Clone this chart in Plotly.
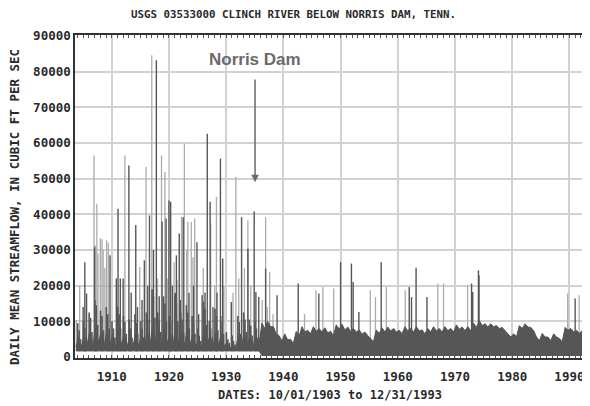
import plotly.graph_objects as go

# ---------------- data ----------------
# pre-dam dense band (water years 1904-1935): wet-season and dry-season tops
pre_years = list(range(1904, 1936))
pre_wet_top = [5500, 6000, 7000, 8000, 7000, 7500, 6000, 7500, 6500, 6000,
               6500, 6000, 7000, 9000, 7000, 8500, 6500, 8500, 7000, 7500,
               6500, 4800, 8000, 6000, 7000, 6500, 4200, 3800, 6500, 7000,
               6200, 6000]
pre_dry_top = [3000, 3500, 3200, 4000, 3300, 3600, 2800, 3500, 3000, 2900,
               3200, 2800, 3400, 4200, 3300, 3800, 3000, 3900, 3200, 3500,
               3000, 2500, 3600, 2800, 3300, 3000, 2400, 2200, 3000, 3200,
               3000, 2900]
pre_low = 1600

# typical winter / spring / summer freshets in the pre-dam years
pre_jan_peak = [9500, 10000, 12500, 16000, 13000, 14000, 10000, 14000, 11500, 10500,
                12000, 10000, 12500, 19000, 12500, 17000, 11500, 17500, 12500, 14500,
                11500, 8000, 15500, 10000, 13500, 11500, 7000, 6000, 11500, 12500,
                10500, 10000]
pre_apr_peak = [7500, 8000, 11000, 14500, 11500, 12000, 8000, 12000, 9800, 8000,
                9500, 8000, 10500, 17000, 10500, 15000, 9800, 15000, 10500, 12500,
                9800, 6000, 13500, 8000, 11500, 9800, 5000, 4500, 9800, 10500,
                8800, 8000]
pre_jul_peak = [5000, 5500, 7000, 9000, 7500, 8000, 5500, 8000, 6500, 5500,
                6500, 5500, 7000, 11000, 7000, 10000, 6500, 10000, 7000, 8000,
                6500, 4500, 9000, 5500, 7500, 6500, 4000, 3500, 6500, 7000,
                6000, 5500]

# post-dam regulated band (1936-1993): first-half and second-half tops
post_years = list(range(1936, 1994))
post_top_h1 = [9500, 10000, 8500, 6000, 6500, 5000, 7200, 8500, 7500, 8500,
               8000, 8200, 7200, 9000, 9200, 8400, 8000, 7600, 7000, 5200,
               7600, 8200, 8400, 8000, 7500, 8500, 8000, 8500, 7600, 8000,
               8500, 8000, 8500, 8000, 9000, 8400, 8500, 9500, 10200, 9300,
               9300, 8800, 8300, 6600, 6500, 8800, 9300, 8300, 5600, 6600,
               5600, 6500, 5200, 8300, 8000, 7500, 7500, 8000]
post_top_h2 = [8000, 8500, 6500, 4500, 4800, 3800, 5800, 7000, 6500, 7200,
               7000, 6800, 6000, 7800, 7600, 7200, 7000, 6400, 6000, 4300,
               6600, 7000, 7300, 7000, 6500, 7300, 7000, 7300, 6500, 7000,
               7300, 7000, 7400, 7000, 7800, 7400, 7300, 8300, 8800, 8500,
               8500, 8000, 7400, 5600, 5700, 8000, 8400, 7400, 4600, 5600,
               4600, 5600, 4300, 7500, 7000, 6600, 6500, 7000]
post_low = 300

# individual flood peaks (dark traces)
dark_peak_year = [1905.0, 1905.3, 1905.6, 1907.0, 1909.7, 1910.8, 1911.1, 1911.5,
                  1912.0, 1913.0, 1913.4, 1914.2, 1914.5, 1915.3, 1915.7, 1916.3,
                  1916.6, 1917.3, 1917.8, 1918.3, 1918.8, 1919.5, 1920.0, 1920.3,
                  1920.6, 1921.1, 1921.3, 1921.8, 1922.0, 1922.5, 1923.5, 1924.3,
                  1924.9, 1925.2, 1925.8, 1926.3, 1926.7, 1927.2, 1927.7, 1928.4,
                  1929.0, 1929.4, 1930.9, 1932.7, 1933.8, 1934.9, 1935.2, 1935.7,
                  1936.9, 1938.9, 1942.6, 1946.2, 1950.0, 1951.9, 1952.2, 1953.2,
                  1957.1, 1962.0, 1962.4, 1963.2, 1965.1, 1972.9, 1973.1, 1974.1,
                  1974.2, 1991.0]
dark_peak_flow = [14000, 26600, 17800, 30800, 28500, 22000, 41600, 22000,
                  22000, 53700, 18000, 37000, 14000, 16000, 27100, 20000,
                  39700, 30000, 83200, 17000, 38000, 38800, 43900, 43500,
                  20000, 18000, 28500, 34600, 16000, 39200, 18000, 20000,
                  32200, 12000, 17300, 18000, 62600, 43500, 14000, 18000,
                  55600, 27600, 15400, 39200, 30400, 40800, 18200, 16800,
                  24800, 17300, 20600, 17800, 26600, 26200, 21000, 12600,
                  26600, 19600, 16800, 25000, 16800, 20600, 18200, 24300,
                  22900, 16400]

# lighter (thin, anti-aliased) peaks
light_peak_year = [1903.8, 1904.4, 1906.9, 1907.1, 1907.4, 1907.6, 1908.0, 1908.3,
                   1908.5, 1908.8, 1909.1, 1909.4, 1912.3, 1914.9, 1916.0, 1917.0,
                   1918.0, 1918.7, 1919.3, 1919.8, 1920.9, 1921.4, 1922.2, 1922.7,
                   1923.1, 1923.3, 1923.9, 1924.2, 1924.5, 1926.0, 1927.3, 1928.0,
                   1928.3, 1929.6, 1931.2, 1931.7, 1932.2, 1933.2, 1933.8, 1934.3,
                   1936.3, 1936.9, 1937.2, 1937.6, 1938.2, 1943.7, 1945.7, 1946.9,
                   1948.8, 1955.2, 1956.1, 1958.0, 1961.3, 1967.0, 1968.0, 1972.2,
                   1989.7, 1991.7]
light_peak_flow = [10400, 20000, 56500, 31300, 43000, 29000, 33200, 33000,
                   30000, 25000, 32700, 32000, 56500, 25200, 53300, 84600,
                   22000, 56500, 51900, 22000, 26600, 21500, 39300, 59800,
                   30000, 37900, 37900, 28000, 38800, 25000, 37500, 20000,
                   44900, 20000, 18000, 50500, 22000, 25000, 38300, 20000,
                   16000, 39200, 14000, 23800, 12000, 12100, 18700, 19600,
                   19200, 18700, 16800, 19600, 18700, 20600, 20600, 20100,
                   17800, 17300]

decade_ticks = [1910, 1920, 1930, 1940, 1950, 1960, 1970, 1980, 1990]
flow_ticks = [0, 10000, 20000, 30000, 40000, 50000, 60000, 70000, 80000, 90000]

dam_year = 1935.05
dam_label_flow = 83300
dam_arrow_from = 78200
dam_arrow_to = 49000

# ---------------- build traces ----------------
band_x, band_top, band_bot = [1903.75], [2800], [pre_low]
for yr, w, d in zip(pre_years, pre_wet_top, pre_dry_top):
    band_x += [yr + 0.15, yr + 0.7]
    band_top += [w, d]
    band_bot += [pre_low, pre_low]
for yr, a, b in zip(post_years, post_top_h1, post_top_h2):
    band_x += [yr + 0.25, yr + 0.75]
    band_top += [a, b]
    band_bot += [post_low, post_low]
band_x.append(1994.0)
band_top.append(post_top_h2[-1])
band_bot.append(post_low)


def spikes(xs, ys):
    sx, sy = [], []
    for x, y in zip(xs, ys):
        base = pre_low if x < 1936 else post_low
        sx += [x, x, None]
        sy += [base, y, None]
    return sx, sy


season_x, season_y = [], []
for yr, j, a, s in zip(pre_years, pre_jan_peak, pre_apr_peak, pre_jul_peak):
    season_x += [yr + 0.05, yr + 0.3, yr + 0.55]
    season_y += [j, a, s]

DARK = "#565656"
LIGHT = "#ababab"

fig = go.Figure()
lx, ly = spikes(light_peak_year, light_peak_flow)
fig.add_trace(go.Scatter(x=lx, y=ly, mode="lines",
                         line=dict(color=LIGHT, width=1.3), hoverinfo="skip"))
fig.add_trace(go.Scatter(x=band_x, y=band_bot, mode="lines",
                         line=dict(color=DARK, width=0), hoverinfo="skip"))
fig.add_trace(go.Scatter(x=band_x, y=band_top, mode="lines", fill="tonexty",
                         fillcolor=DARK, line=dict(color=DARK, width=1),
                         hoverinfo="skip"))
sx, sy = spikes(season_x, season_y)
fig.add_trace(go.Scatter(x=sx, y=sy, mode="lines",
                         line=dict(color=DARK, width=1.6), hoverinfo="skip"))
dx, dy = spikes(dark_peak_year, dark_peak_flow)
fig.add_trace(go.Scatter(x=dx, y=dy, mode="lines",
                         line=dict(color=DARK, width=1.4), hoverinfo="skip"))
# invisible trace so the top axis (yearly tick marks) is drawn
fig.add_trace(go.Scatter(x=[decade_ticks[0]], y=[flow_ticks[0]], mode="markers",
                         marker=dict(opacity=0), xaxis="x2", hoverinfo="skip"))

MONO = "DejaVu Sans Mono"
TXT = "#2a2a2a"
XRANGE = [1903.58, 1993.6]
yearly_minor = dict(dtick=1, tick0=1900, ticks="inside", ticklen=3,
                    tickcolor="#555", tickwidth=1, showgrid=False)

# the page body adds an 8px offset, so the figure is 8px smaller than the window
fig.update_layout(
    width=582, height=398,
    margin=dict(l=67, r=0, t=27, b=48, autoexpand=False),
    paper_bgcolor="white", plot_bgcolor="white",
    showlegend=False,
    xaxis=dict(
        range=XRANGE, tickvals=decade_ticks,
        showgrid=True, gridcolor="#d2d2d2", gridwidth=2,
        showline=True, linecolor="#333", linewidth=1.5,
        ticks="", ticklabelstandoff=6, automargin=False,
        minor=yearly_minor,
        tickfont=dict(family=MONO, size=12.5, color=TXT, weight="bold"),
        zeroline=False,
    ),
    xaxis2=dict(
        range=XRANGE, overlaying="x", side="top", anchor="y",
        showgrid=False, showticklabels=False, tickvals=decade_ticks,
        showline=True, linecolor="#333", linewidth=1.5,
        ticks="", automargin=False, zeroline=False,
        minor=yearly_minor,
    ),
    yaxis=dict(
        range=[-280, 90280], tickvals=flow_ticks,
        ticktext=[str(v) for v in flow_ticks],
        showgrid=True, gridcolor="#d2d2d2", gridwidth=2,
        showline=True, linecolor="#333", linewidth=1.5,
        ticks="", zeroline=False, automargin=False,
        tickfont=dict(family=MONO, size=12.5, color=TXT, weight="bold"),
    ),
    annotations=[
        dict(text="USGS 03533000 CLINCH RIVER BELOW NORRIS DAM, TENN.",
             xref="paper", yref="paper", x=0.425, y=1.065,
             showarrow=False, xanchor="center", yanchor="middle",
             font=dict(family=MONO, size=10.8, color=TXT, weight="bold")),
        dict(text="DATES: 10/01/1903 to 12/31/1993",
             xref="paper", yref="paper", x=0.495, y=-0.1146,
             showarrow=False, xanchor="center", yanchor="middle",
             font=dict(family=MONO, size=12, color=TXT, weight="bold")),
        dict(text="DAILY MEAN STREAMFLOW, IN CUBIC FT PER SEC",
             xref="paper", yref="paper", x=-0.1165, y=0.4675, textangle=-90,
             showarrow=False, xanchor="center", yanchor="middle",
             font=dict(family=MONO, size=12.5, color=TXT, weight="bold")),
        dict(text="Norris Dam", x=dam_year, y=dam_label_flow,
             xref="x", yref="y", showarrow=False,
             font=dict(family="Liberation Sans", size=17, color="#6a6a6a",
                       weight="bold")),
        dict(text="", x=dam_year, y=dam_arrow_to, ax=dam_year, ay=dam_arrow_from,
             xref="x", yref="y", axref="x", ayref="y",
             showarrow=True, arrowhead=2, arrowsize=1, arrowwidth=1.5,
             arrowcolor="#6a6a6a"),
    ],
)

fig.write_html("out.html")
